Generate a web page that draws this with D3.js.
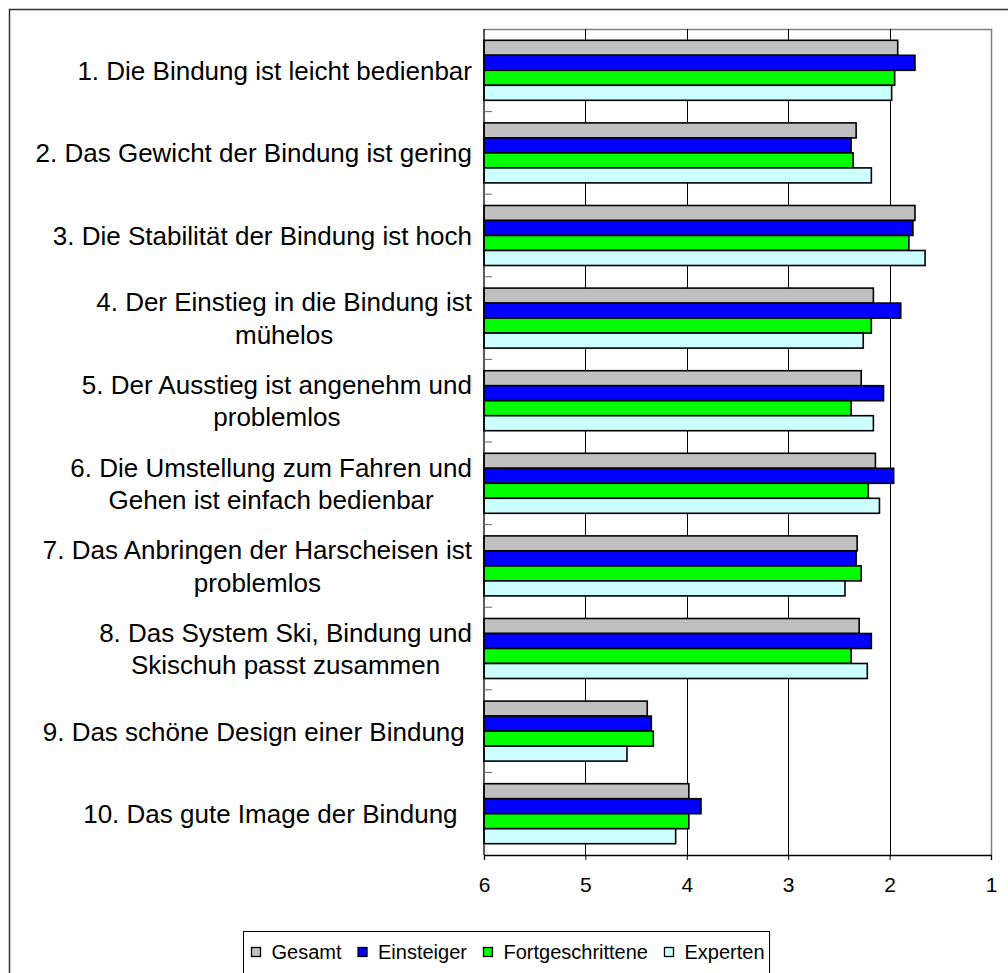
<!DOCTYPE html>
<html>
<head>
<meta charset="utf-8">
<script src="https://cdn.jsdelivr.net/npm/d3@7"></script>
<style>
  html, body { margin: 0; padding: 0; background: #fff; }
  svg { display: block; }
  text { font-family: "Liberation Sans", Arial, sans-serif; fill: #000; }
</style>
</head>
<body>
<svg width="1008" height="973"></svg>
<script>
// category labels (lines)
const categories = [
    ["1. Die Bindung ist leicht bedienbar"],
    ["2. Das Gewicht der Bindung ist gering"],
    ["3. Die Stabilität der Bindung ist hoch"],
    ["4. Der Einstieg in die Bindung ist", "mühelos"],
    ["5. Der Ausstieg ist angenehm und", "problemlos"],
    ["6. Die Umstellung zum Fahren und", "Gehen ist einfach bedienbar"],
    ["7. Das Anbringen der Harscheisen ist", "problemlos"],
    ["8. Das System Ski, Bindung und", "Skischuh passt zusammen"],
    ["9. Das schöne Design einer Bindung "],
    ["10. Das gute Image der Bindung  "]
];

const seriesNames = ["Gesamt", "Einsteiger", "Fortgeschrittene", "Experten"];
const seriesColors = ["#C0C0C0", "#0000FF", "#00FF00", "#CCFFFF"];

const gesamt           = [1.92, 2.33, 1.75, 2.16, 2.28, 2.14, 2.32, 2.30, 4.39, 3.98];
const einsteiger       = [1.75, 2.38, 1.77, 1.89, 2.06, 1.96, 2.33, 2.18, 4.35, 3.86];
const fortgeschrittene = [1.95, 2.36, 1.81, 2.18, 2.38, 2.21, 2.28, 2.38, 4.33, 3.98];
const experten         = [1.98, 2.18, 1.65, 2.26, 2.16, 2.10, 2.44, 2.22, 4.59, 4.11];

const tickValues = [6, 5, 4, 3, 2, 1];

const seriesValues = [gesamt, einsteiger, fortgeschrittene, experten];

const svg = d3.select("svg");

// outer chart frame (runs past the picture on right and bottom)
svg.append("rect")
    .attr("x", 9.5).attr("y", 9.5)
    .attr("width", 1020).attr("height", 990)
    .attr("fill", "none")
    .attr("stroke", "#333")
    .attr("stroke-width", 1.5);

const plot = { left: 484, right: 991, top: 29, bottom: 855 };

const x = d3.scaleLinear().domain([6, 1]).range([plot.left, plot.right]);

const pad = 22.6 / 82.6;
const y = d3.scaleBand()
    .domain(d3.range(categories.length))
    .range([plot.top, plot.bottom])
    .paddingInner(pad)
    .paddingOuter(pad / 2);

const ySub = d3.scaleBand()
    .domain(d3.range(seriesNames.length))
    .range([0, y.bandwidth()]);

// plot border (grey) on top and right
svg.append("path")
    .attr("d", `M${plot.left},${plot.top + 0.5}H${plot.right + 0.5}V${plot.bottom}`)
    .attr("fill", "none")
    .attr("stroke", "#808080")
    .attr("stroke-width", 1.5);

// vertical gridlines
svg.append("g")
    .selectAll("line")
    .data(tickValues.filter(d => d !== 6 && d !== 1))
    .join("line")
    .attr("x1", d => Math.round(x(d)) + 0.5)
    .attr("x2", d => Math.round(x(d)) + 0.5)
    .attr("y1", plot.top)
    .attr("y2", plot.bottom)
    .attr("stroke", "#000")
    .attr("stroke-width", 1);

// bars
const groups = svg.append("g")
    .selectAll("g")
    .data(categories)
    .join("g")
    .attr("transform", (d, i) => `translate(0,${y(i)})`);

groups.selectAll("rect")
    .data((d, i) => seriesValues.map((vals, s) => ({ s, v: vals[i] })))
    .join("rect")
    .attr("x", x(6))
    .attr("y", d => ySub(d.s))
    .attr("width", d => x(d.v) - x(6))
    .attr("height", ySub.bandwidth())
    .attr("fill", d => seriesColors[d.s])
    .attr("stroke", "#000")
    .attr("stroke-width", 1.6);

// category axis (left) with inside ticks at band boundaries
svg.append("line")
    .attr("x1", plot.left).attr("x2", plot.left)
    .attr("y1", plot.top).attr("y2", plot.bottom)
    .attr("stroke", "#000").attr("stroke-width", 1.3);

const step = y.step();
svg.append("g")
    .selectAll("line")
    .data(d3.range(1, categories.length))
    .join("line")
    .attr("x1", plot.left)
    .attr("x2", plot.left + 8)
    .attr("y1", i => plot.top + i * step)
    .attr("y2", i => plot.top + i * step)
    .attr("stroke", "#666")
    .attr("stroke-width", 1);

// category labels: block right-aligned, lines centred inside the block
const labelRight = 472;
const lineGap = 32.5;
const labels = svg.append("g").attr("font-size", 26);
categories.forEach((lines, i) => {
    const cy = y(i) + y.bandwidth() / 2;
    const g = labels.append("g");
    const texts = lines.map((line, k) => g.append("text")
        .attr("xml:space", "preserve")
        .style("white-space", "pre")
        .attr("y", cy + 9.5 + (k - (lines.length - 1) / 2) * lineGap)
        .text(line));
    const w = d3.max(texts, t => t.node().getComputedTextLength());
    texts.forEach(t => t.attr("x", labelRight - w / 2).attr("text-anchor", "middle"));
});

// value axis (bottom)
const xAxis = d3.axisBottom(x)
    .tickValues(tickValues)
    .tickSize(5)
    .tickPadding(17)
    .tickFormat(d3.format("d"));

const ax = svg.append("g")
    .attr("transform", `translate(0,${plot.bottom})`)
    .call(xAxis);
ax.select(".domain").attr("stroke", "#000").attr("stroke-width", 1.3);
ax.selectAll(".tick line").attr("stroke", "#000");
ax.selectAll(".tick text")
    .attr("font-size", 21)
    .attr("font-family", "Liberation Sans, Arial, sans-serif")
    .attr("fill", "#000");

// legend
const legend = svg.append("g").attr("font-size", 20);
let lx = 251.5;
seriesNames.forEach((name, s) => {
    legend.append("rect")
        .attr("x", lx).attr("y", 947.5)
        .attr("width", 9).attr("height", 9)
        .attr("fill", seriesColors[s])
        .attr("stroke", "#000")
        .attr("stroke-width", 1.3);
    const t = legend.append("text")
        .attr("x", lx + 20)
        .attr("y", 959)
        .text(name);
    lx = lx + 20 + t.node().getComputedTextLength() + 16.5;
});
legend.insert("rect", ":first-child")
    .attr("x", 243.5).attr("y", 931.5)
    .attr("width", lx - 16.5 + 5 - 243.5)
    .attr("height", 45)
    .attr("fill", "#fff")
    .attr("stroke", "#000")
    .attr("stroke-width", 1);
</script>
</body>
</html>
